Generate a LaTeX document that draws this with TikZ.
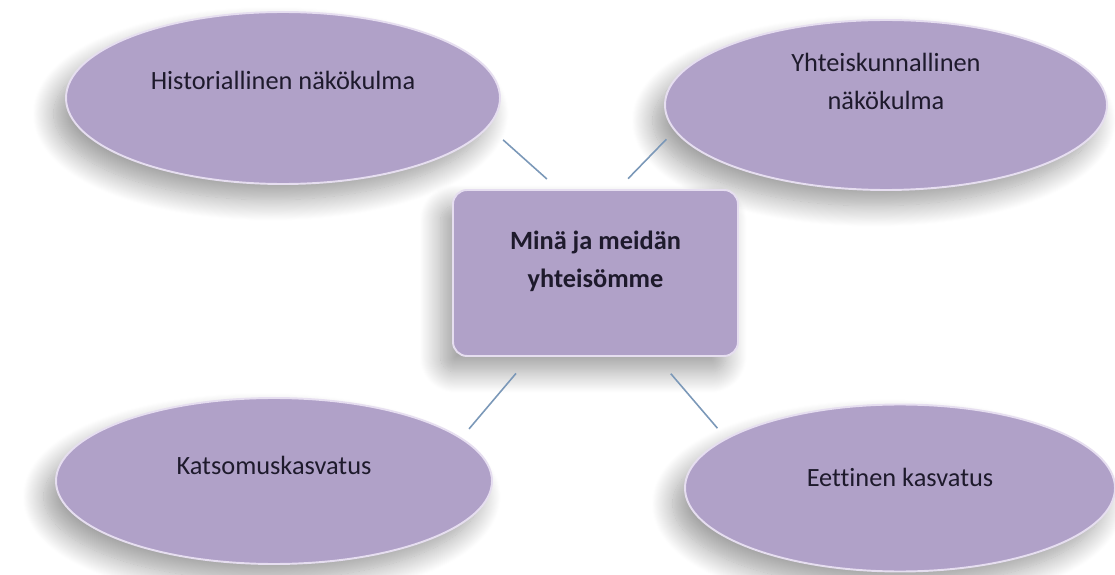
\documentclass[tikz,border=0pt]{standalone}
\usepackage{fontspec}
\setmainfont[Ligatures=CommonOff]{Carlito}
\usetikzlibrary{shapes.geometric,shadows.blur}

\definecolor{lilac}{HTML}{B0A1C8}
\definecolor{rim}{HTML}{E6DEF0}
\definecolor{ink}{HTML}{1E1A2C}
\definecolor{linkblue}{HTML}{7B98B8}

\tikzset{
    softshadow/.style={blur shadow={shadow xshift=-7pt, shadow yshift=-9pt,
        shadow blur radius=12pt, shadow blur steps=24, shadow opacity=38}},
    bubble/.style={ellipse, inner sep=0pt, fill=lilac, draw=rim, line width=1.1pt, softshadow},
    hub/.style={rectangle, rounded corners=8pt, inner sep=0pt, fill=lilac, draw=rim, line width=1.1pt, softshadow},
    txt/.style={text=ink, align=center, font=\fontsize{15}{21.6}\selectfont},
    link/.style={linkblue, line width=0.9pt}
}

\begin{document}
\begin{tikzpicture}
    \useasboundingbox (0,0) rectangle (22.3,11.48);
    % top row
    \node[bubble, minimum width=8.68cm, minimum height=3.44cm,
        label={[txt, yshift=0.36cm]center:Historiallinen näkökulma}]
        (hist) at (5.66, 9.52) {};
    \node[bubble, minimum width=8.84cm, minimum height=3.4cm,
        label={[txt, yshift=0.48cm]center:Yhteiskunnallinen\\näkökulma}]
        (yhteis) at (17.72, 9.38) {};
    % bottom row
    \node[bubble, minimum width=8.72cm, minimum height=3.32cm,
        label={[txt, yshift=0.32cm]center:Katsomuskasvatus}]
        (katso) at (5.48, 1.86) {};
    \node[bubble, minimum width=8.6cm, minimum height=3.34cm,
        label={[txt, yshift=0.22cm]center:Eettinen kasvatus}]
        (eetti) at (18.0, 1.72) {};
    % centre box
    \node[hub, minimum width=5.7cm, minimum height=3.32cm,
        label={[txt, font=\fontsize{15}{21.6}\selectfont\bfseries, yshift=0.24cm]center:Minä ja meidän\\yhteisömme}]
        (hub) at (11.91, 6.02) {};
    % links
    \draw[link, shorten <=0.3cm, shorten >=0.39cm] (hub.114.2) -- (hist.-8.1);
    \draw[link, shorten <=0.29cm, shorten >=0.23cm] (hub.75.6) -- (yhteis.187.3);
    \draw[link, shorten <=0.43cm, shorten >=0.23cm] (hub.232.6) -- (katso.13.1);
    \draw[link, shorten <=0.44cm, shorten >=0.26cm] (hub.-54) -- (eetti.164.3);
\end{tikzpicture}
\end{document}
